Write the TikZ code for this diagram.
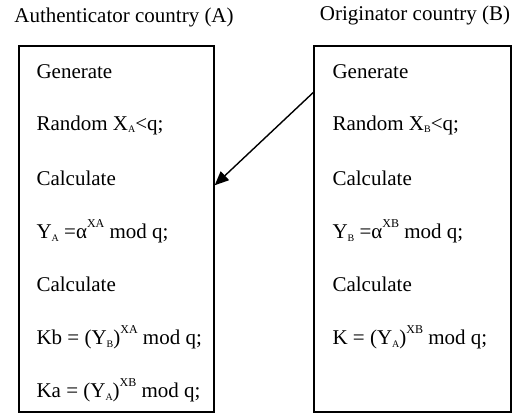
\documentclass[tikz,border=0pt]{standalone}
\usepackage{fontspec}
\setmainfont{Liberation Serif}
\usetikzlibrary{arrows.meta}
\newcommand{\lowtxt}[1]{\raisebox{-0.3ex}{\fontsize{10}{10}\selectfont #1}}
\newcommand{\hightxt}[1]{\raisebox{1.15ex}{\fontsize{12}{12}\selectfont #1}}

\begin{document}
\begin{tikzpicture}[x=1pt,y=-1pt,font=\fontsize{21}{25}\selectfont,
		box/.style={draw, line width=1.4pt, minimum height=366pt}]
		\useasboundingbox (0,0) rectangle (514,414);
		\node (titleA) at (124,17) {Authenticator country (A)};
		\node (titleB) at (415,15) {Originator country (B)};
		\node (boxA) at (116.5,229) [box, minimum width=195pt] {};
		\node (boxB) at (412.5,229) [box, minimum width=197pt] {};
		
		\foreach \t [count=\i] in {Generate, Random X\lowtxt{A}<q;, Calculate, Y\lowtxt{A} =α\hightxt{XA} mod q;, Calculate, Kb = (Y\lowtxt{B})\hightxt{XA} mod q;, Ka = (Y\lowtxt{A})\hightxt{XB} mod q;} {
			\node (a\i) at (33,{72+(\i-1)*53}) [anchor=west] {\t};
		}
		\foreach \t [count=\i] in {Generate, Random X\lowtxt{B}<q;, Calculate, Y\lowtxt{B} =α\hightxt{XB} mod q;, Calculate, K = (Y\lowtxt{A})\hightxt{XB} mod q;} {
			\node (b\i) at (329,{72+(\i-1)*53}) [anchor=west] {\t};
		}
		
		\draw[-{Triangle[length=14pt,width=12pt]}, line width=1.4pt] (boxB.126.7) -- (boxA.24.3);
	\end{tikzpicture}
\end{document}
